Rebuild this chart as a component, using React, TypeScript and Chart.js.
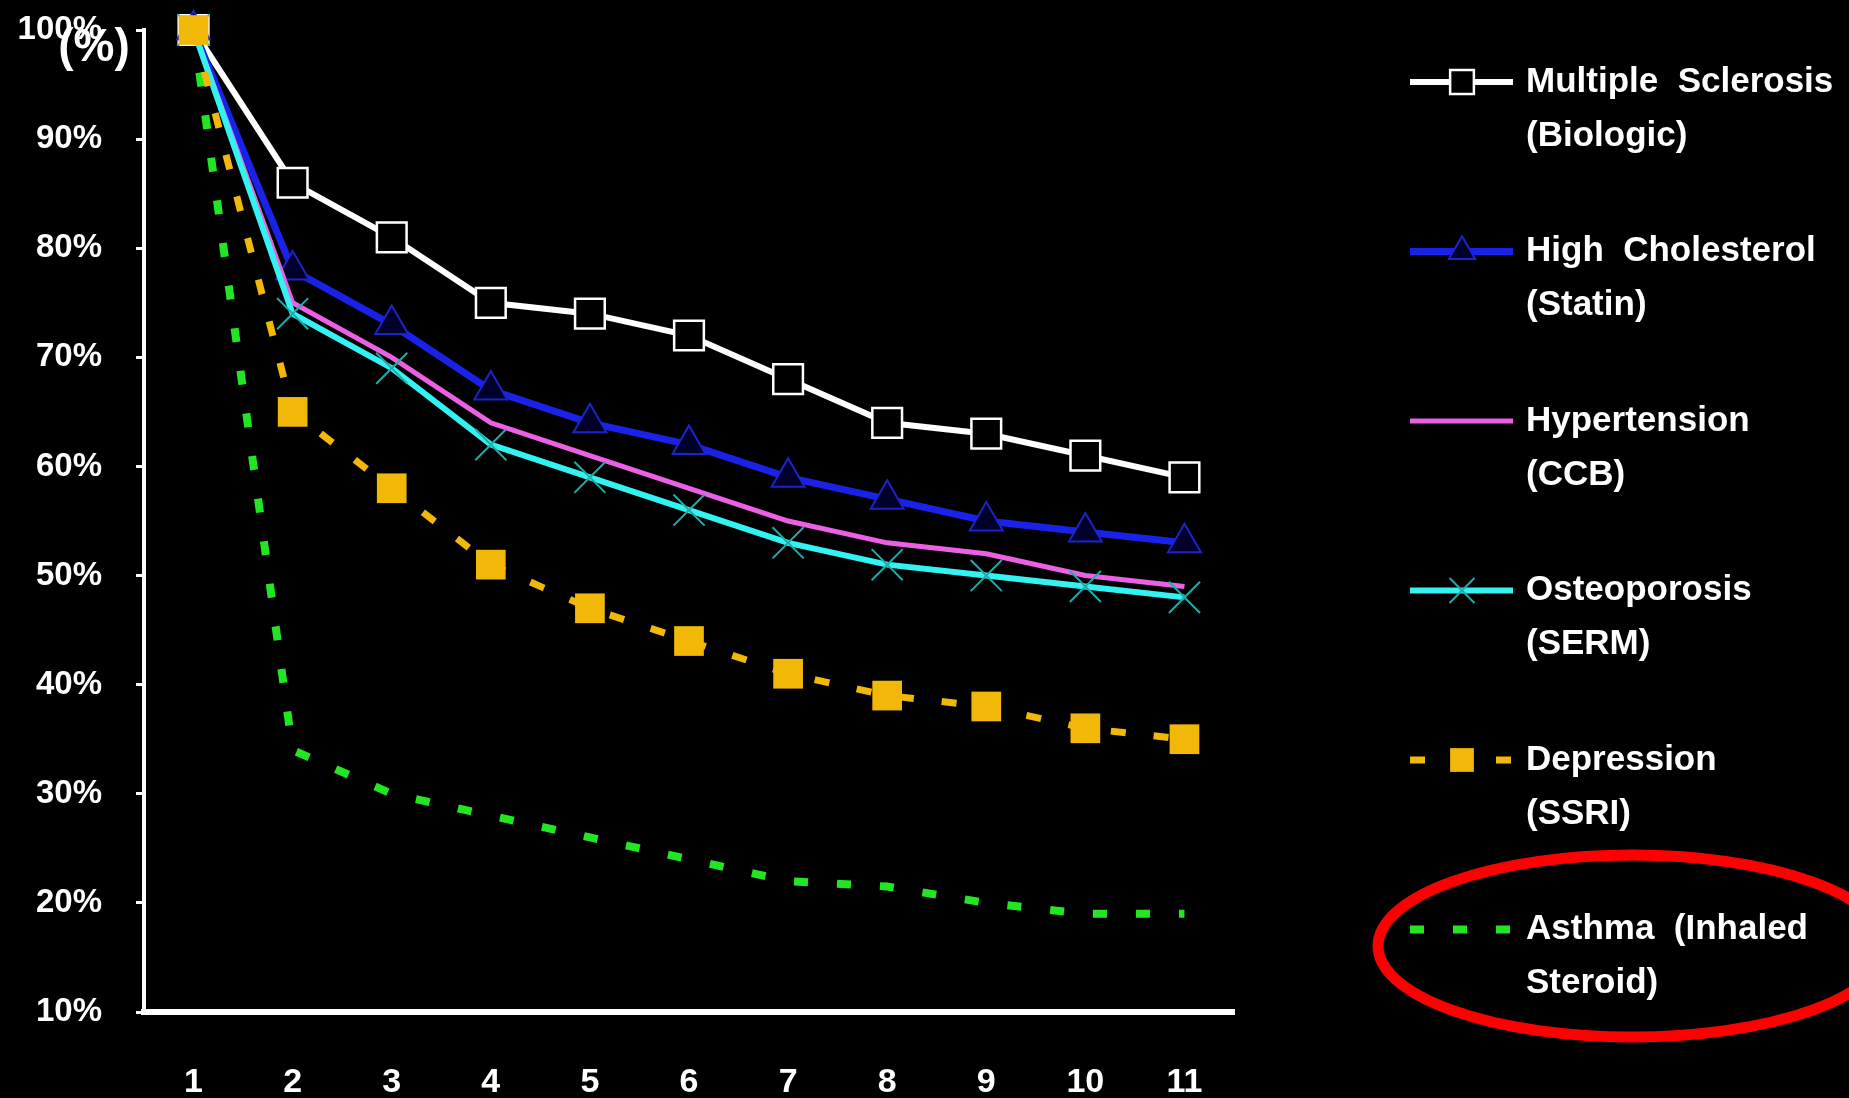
import React, { useEffect, useRef } from 'react';
import { Chart, registerables } from 'chart.js';

Chart.register(...registerables);

// ---- data ----
const periods = ['1', '2', '3', '4', '5', '6', '7', '8', '9', '10', '11'];
const multipleSclerosis = [100, 86, 81, 75, 74, 72, 68, 64, 63, 61, 59];
const highCholesterol = [100, 78, 73, 67, 64, 62, 59, 57, 55, 54, 53];
const hypertension = [100, 75, 70, 64, 61, 58, 55, 53, 52, 50, 49];
const osteoporosis = [100, 74, 69, 62, 59, 56, 53, 51, 50, 49, 48];
const depression = [100, 65, 58, 51, 47, 44, 41, 39, 38, 36, 35];
const asthma = [100, 34, 30, 28, 26, 24, 22, 21.5, 20, 19, 19];

const yMin = 10;
const yMax = 100;
const yStep = 10;
const yUnitLabel = '(%)';

const legendMS = ['Multiple  Sclerosis', '(Biologic)'];
const legendChol = ['High  Cholesterol', '(Statin)'];
const legendHyp = ['Hypertension', '(CCB)'];
const legendOst = ['Osteoporosis', '(SERM)'];
const legendDep = ['Depression', '(SSRI)'];
const legendAst = ['Asthma  (Inhaled', 'Steroid)'];

const FONT = '"Liberation Sans", Arial, sans-serif';

function drawMarker(ctx: CanvasRenderingContext2D, style: string, x: number, y: number, r: number, fill: string, stroke: string, lw: number) {
  ctx.save();
  ctx.setLineDash([]);
  ctx.fillStyle = fill;
  ctx.strokeStyle = stroke;
  ctx.lineWidth = lw;
  ctx.beginPath();
  if (style === 'rect') {
    const s = Math.SQRT1_2 * r;
    ctx.rect(x - s, y - s, 2 * s, 2 * s);
    ctx.fill();
    if (lw > 0) ctx.stroke();
  } else if (style === 'triangle') {
    const w = r;
    ctx.moveTo(x, y - r);
    ctx.lineTo(x + Math.sin((2 * Math.PI) / 3) * w, y - Math.cos((2 * Math.PI) / 3) * r);
    ctx.lineTo(x + Math.sin((4 * Math.PI) / 3) * w, y - Math.cos((4 * Math.PI) / 3) * r);
    ctx.closePath();
    ctx.fill();
    if (lw > 0) ctx.stroke();
  } else if (style === 'crossRot') {
    const o = Math.cos(Math.PI / 4) * r;
    ctx.moveTo(x - o, y - o);
    ctx.lineTo(x + o, y + o);
    ctx.moveTo(x - o, y + o);
    ctx.lineTo(x + o, y - o);
    ctx.stroke();
  }
  ctx.restore();
}

const legendPlugin = {
  id: 'customLegend',
  afterDraw(chart: any) {
    const ctx: CanvasRenderingContext2D = chart.ctx;
    const datasets = chart.data.datasets;
    const x0 = 1410;
    const x1 = 1513;
    const xm = 1462;
    const tx = 1526;
    const y0 = 82;
    const dy = 169.5;
    const lineGap = 54;
    datasets.forEach((ds: any, i: number) => {
      const y = y0 + i * dy;
      ctx.save();
      ctx.strokeStyle = ds.borderColor;
      ctx.lineWidth = ds.borderWidth;
      ctx.setLineDash(ds.borderDash || []);
      ctx.lineDashOffset = 0;
      ctx.beginPath();
      ctx.moveTo(x0, y);
      ctx.lineTo(x1, y);
      ctx.stroke();
      ctx.restore();
      if (ds.pointRadius > 0) {
        drawMarker(ctx, ds.pointStyle, xm, y, ds.pointRadius * 0.8, ds.pointBackgroundColor, ds.pointBorderColor, ds.pointBorderWidth);
      }
      ctx.save();
      ctx.fillStyle = '#FFFFFF';
      ctx.font = `bold 35px ${FONT}`;
      ctx.textAlign = 'left';
      ctx.textBaseline = 'middle';
      (ds.legendLines as string[]).forEach((t, k) => {
        ctx.fillText(t, tx, y + k * lineGap);
      });
      ctx.restore();
    });

    // unit label
    ctx.save();
    ctx.fillStyle = '#FFFFFF';
    ctx.font = `bold 46px ${FONT}`;
    ctx.textAlign = 'center';
    ctx.textBaseline = 'middle';
    ctx.fillText(yUnitLabel, 94, 48);
    ctx.restore();

    // red highlight ellipse
    ctx.save();
    ctx.strokeStyle = '#FF0000';
    ctx.lineWidth = 11;
    ctx.beginPath();
    ctx.ellipse(1632, 946, 254, 91, 0, 0, Math.PI * 2);
    ctx.stroke();
    ctx.restore();
  },
};

export default function App() {
  const canvasRef = useRef<HTMLCanvasElement | null>(null);

  useEffect(() => {
    document.body.style.margin = '0';
    document.body.style.background = '#000';
    const canvas = canvasRef.current;
    if (!canvas) return;
    const chart = new Chart(canvas, {
      type: 'line',
      data: {
        labels: periods,
        datasets: [
          {
            label: legendMS.join(' '),
            legendLines: legendMS,
            data: multipleSclerosis,
            borderColor: '#FFFFFF',
            borderWidth: 6,
            pointStyle: 'rect',
            pointRadius: 21,
            pointBackgroundColor: '#000000',
            pointBorderColor: '#FFFFFF',
            pointBorderWidth: 2.5,
            order: 4,
          },
          {
            label: legendChol.join(' '),
            legendLines: legendChol,
            data: highCholesterol,
            borderColor: '#1A22E8',
            borderWidth: 7,
            pointStyle: 'triangle',
            pointRadius: 19,
            pointBackgroundColor: '#00002A',
            pointBorderColor: '#1C24C8',
            pointBorderWidth: 2,
            order: 3,
          },
          {
            label: legendHyp.join(' '),
            legendLines: legendHyp,
            data: hypertension,
            borderColor: '#EC60E4',
            borderWidth: 5,
            pointRadius: 0,
            pointStyle: 'circle',
            order: 2,
          },
          {
            label: legendOst.join(' '),
            legendLines: legendOst,
            data: osteoporosis,
            borderColor: '#33F2F2',
            borderWidth: 6,
            pointStyle: 'crossRot',
            pointRadius: 22,
            pointBackgroundColor: '#22AAAA',
            pointBorderColor: '#22AAAA',
            pointBorderWidth: 2,
            order: 1,
          },
          {
            label: legendDep.join(' '),
            legendLines: legendDep,
            data: depression,
            borderColor: '#F2B807',
            borderWidth: 7,
            borderDash: [15, 28],
            pointStyle: 'rect',
            pointRadius: 21,
            pointBackgroundColor: '#F2B807',
            pointBorderColor: '#F2B807',
            pointBorderWidth: 0,
            order: 0,
          },
          {
            label: legendAst.join(' '),
            legendLines: legendAst,
            data: asthma,
            borderColor: '#22E622',
            borderWidth: 8,
            borderDash: [14, 29],
            pointRadius: 0,
            pointStyle: 'circle',
            order: 5,
          },
        ] as any,
      },
      options: {
        animation: false,
        responsive: false,
        devicePixelRatio: 1,
        layout: { padding: { left: 0, top: 30, right: 615, bottom: 0 } },
        elements: { line: { tension: 0 } },
        datasets: { line: { clip: false } as any },
        plugins: {
          legend: { display: false },
          tooltip: { enabled: false },
          title: { display: false },
        },
        scales: {
          x: {
            type: 'category',
            offset: true,
            grid: { display: false, drawTicks: false },
            border: { display: true, color: '#FFFFFF', width: 6 },
            ticks: {
              color: '#FFFFFF',
              font: { family: FONT, weight: 'bold', size: 34 },
              padding: 50,
              maxRotation: 0,
              autoSkip: false,
            },
            afterFit(scale: any) {
              scale.height = 86;
              scale.paddingLeft = 0;
              scale.paddingRight = 0;
            },
          },
          y: {
            min: yMin,
            max: yMax,
            grid: {
              display: true,
              drawOnChartArea: false,
              drawTicks: true,
              tickLength: 8,
              color: '#FFFFFF',
              lineWidth: 3,
            },
            border: { display: true, color: '#FFFFFF', width: 4 },
            ticks: {
              stepSize: yStep,
              color: '#FFFFFF',
              font: { family: FONT, weight: 'bold', size: 33 },
              padding: 34,
              callback: (v: any) => `${v}%`,
            },
            afterFit(scale: any) {
              scale.width = 144;
              scale.paddingTop = 0;
              scale.paddingBottom = 0;
            },
          },
        },
      } as any,
      plugins: [legendPlugin],
    });
    return () => chart.destroy();
  }, []);

  return (
    <div style={{ position: 'fixed', left: 0, top: 0, width: 1849, height: 1098, background: '#000' }}>
      <canvas ref={canvasRef} width={1849} height={1098} style={{ display: 'block' }} />
    </div>
  );
}
